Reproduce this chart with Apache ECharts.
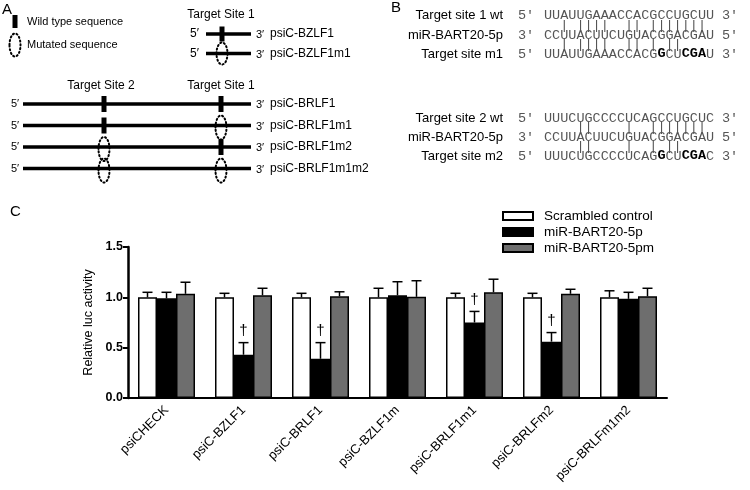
<!DOCTYPE html>
<html><head><meta charset="utf-8">
<script src="https://cdn.jsdelivr.net/npm/echarts@6/dist/echarts.min.js"></script>
<style>html,body{margin:0;padding:0;background:#fff}#c{width:750px;height:490px}</style>
</head><body><div id="c"></div>
<script>
// ---- Panel C data ----
const categories = ['psiCHECK','psiC-BZLF1','psiC-BRLF1','psiC-BZLF1m','psiC-BRLF1m1','psiC-BRLFm2','psiC-BRLFm1m2'];
const seriesNames = ['Scrambled control','miR-BART20-5p','miR-BART20-5pm'];
const scrambled    = [1.00, 1.00, 1.00, 1.00, 1.00, 1.00, 1.00];
const scrambledErr = [1.05, 1.04, 1.04, 1.09, 1.04, 1.04, 1.065];
const mir          = [0.99, 0.43, 0.39, 1.02, 0.75, 0.56, 0.985];
const mirErr       = [1.05, 0.55, 0.55, 1.155, 0.86, 0.65, 1.05];
const mirM         = [1.035, 1.02, 1.01, 1.005, 1.05, 1.035, 1.01];
const mirMErr      = [1.15, 1.09, 1.055, 1.165, 1.18, 1.08, 1.09];
const dagger       = [0, 1, 1, 0, 1, 1, 0];
const yTicks = [0, 0.5, 1.0, 1.5];

// ---- Panel B data ----
const bRows = [
  {label:'Target site 1 wt', left:"5′", seq:[['UUAUUGAAACCACGCCUGCUU',0]], right:"3′"},
  {label:'miR-BART20-5p', left:"3′", seq:[['CCUUACUUCUGUACGGACGAU',0]], right:"5′"},
  {label:'Target site m1', left:"5′", seq:[['UUAUUGAAACCACG',0],['G',1],['CU',0],['CGA',1],['U',0]], right:"3′"},
  {label:'Target site 2 wt', left:"5′", seq:[['UUUCUGCCCCUCAGCCUGCUC',0]], right:"3′"},
  {label:'miR-BART20-5p', left:"3′", seq:[['CCUUACUUCUGUACGGACGAU',0]], right:"5′"},
  {label:'Target site m2', left:"5′", seq:[['UUUCUGCCCCUCAG',0],['G',1],['CU',0],['CGA',1],['C',0]], right:"3′"}
];
const bPairs = [
  '  | ||||  || |||||||',
  '  | ||||  || | ||',
  '    ||    |  |||||||',
  '    ||    |  | ||'
];

// ---- Panel A data ----
const aSingle = ['psiC-BZLF1','psiC-BZLF1m1'];
const aSingleMut = [0, 1];
const aDouble = ['psiC-BRLF1','psiC-BRLF1m1','psiC-BRLF1m2','psiC-BRLF1m1m2'];
const aDoubleMut1 = [0, 1, 0, 1];
const aDoubleMut2 = [0, 0, 1, 1];

const SANS = 'Liberation Sans, Arial, sans-serif';
const MONO = 'Liberation Mono, DejaVu Sans Mono, monospace';
const colors = ['#ffffff','#000000','#6e6e6e'];

const g = [];
function txt(x,y,t,o){ g.push(Object.assign({type:'text',x:x,y:y,style:Object.assign({text:t,fill:'#000',font:'11px '+SANS,textVerticalAlign:'middle'},o||{})})); }
function bar(x1,x2,y){ g.push({type:'line',shape:{x1:x1,y1:y,x2:x2,y2:y},style:{stroke:'#000',lineWidth:3.5}}); }
function site(x,y,h){ g.push({type:'rect',shape:{x:x-2.5,y:y-h/2,width:5,height:h},style:{fill:'#000'}}); }
function mut(x,y,ry){ g.push({type:'ellipse',shape:{cx:x,cy:y,rx:5.5,ry:ry},style:{fill:'rgba(0,0,0,0)',stroke:'#000',lineWidth:2,lineDash:[1.2,2.6],lineCap:'round'}}); }

// Panel A
txt(2,10,'A',{font:'15px '+SANS});
g.push({type:'rect',shape:{x:12.5,y:15,width:5,height:13},style:{fill:'#000'}});
txt(27,22,'Wild type sequence');
mut(15,45,11.5);
txt(27,45,'Mutated sequence');
txt(221,15,'Target Site 1',{font:'12px '+SANS,textAlign:'center'});
aSingle.forEach((n,i)=>{
  const y = 34 + i*19.5;
  txt(190,y,"5′",{font:'12px '+SANS});
  bar(206,251,y);
  if(aSingleMut[i]) mut(222,y,11); else site(222,y,15);
  txt(256,y+1,"3′",{font:'11px '+SANS});
  txt(270,y,n,{font:'12px '+SANS});
});
txt(101,86,'Target Site 2',{font:'12px '+SANS,textAlign:'center'});
txt(221,86,'Target Site 1',{font:'12px '+SANS,textAlign:'center'});
aDouble.forEach((n,i)=>{
  const y = 104 + i*21.5;
  txt(11,y,"5′",{font:'11px '+SANS});
  bar(23,251,y);
  if(aDoubleMut2[i]) mut(104,y+2,12); else site(104,y,16);
  if(aDoubleMut1[i]) mut(221,y+2,12); else site(221,y,16);
  txt(256,y+1,"3′",{font:'11px '+SANS});
  txt(270,y,n,{font:'12px '+SANS});
});

// Panel B
txt(391,8,'B',{font:'15px '+SANS});
const bY = [15,35,54,118,137,156];
const seqX = 544, fs = 13.5, charW = fs*0.6;
bRows.forEach((r,i)=>{
  const y = bY[i];
  txt(503,y,r.label,{font:'13px '+SANS,textAlign:'right'});
  txt(518,y,r.left,{font:fs+'px '+MONO,fill:'#555'});
  let x = seqX;
  r.seq.forEach(([s,b])=>{
    txt(x,y,s,{font:(b?'bold ':'')+fs+'px '+MONO,fill:b?'#000':'#555'});
    x += s.length*charW;
  });
  txt(722,y,r.right,{font:fs+'px '+MONO,fill:'#555'});
});
const pairY = [25,44.5,127.5,146.5];
bPairs.forEach((p,i)=>{
  txt(seqX,pairY[i],p,{font:fs+'px '+MONO,fill:'#555'});
});

// Panel C title
txt(10,212,'C',{font:'15px '+SANS});

const chart = echarts.init(document.getElementById('c'));
const barW = 19;
const errData = [scrambledErr, mirErr, mirMErr];
const valData = [scrambled, mir, mirM];

function errSeries(k){
  return {
    type:'custom', name:seriesNames[k]+' err', z:5,
    data: categories.map((c,i)=>[i, valData[k][i], errData[k][i], k===1?dagger[i]:0]),
    renderItem:function(params, api){
      const i = api.value(0);
      const base = api.coord([i, api.value(1)]);
      const top = api.coord([i, api.value(2)]);
      const x = base[0] + (k-1)*barW;
      const children = [
        {type:'line',shape:{x1:x,y1:base[1],x2:x,y2:top[1]},style:{stroke:'#000',lineWidth:1.5}},
        {type:'line',shape:{x1:x-5,y1:top[1],x2:x+5,y2:top[1]},style:{stroke:'#000',lineWidth:1.5}}
      ];
      if(api.value(3)){
        children.push({type:'text',x:x,y:top[1]-4,style:{text:'†',font:'15px '+SANS,fill:'#000',textAlign:'center',textVerticalAlign:'bottom'}});
      }
      return {type:'group',children:children};
    }
  };
}

const option = {
  animation:false,
  backgroundColor:'#fff',
  graphic: g,
  legend:{
    data: seriesNames,
    orient:'vertical', left:497, top:203, itemWidth:30, itemHeight:8, itemGap:0,
    textStyle:{fontFamily:SANS,fontSize:13.5,color:'#000',padding:[0,0,0,6],lineHeight:16},
    icon:'rect'
  },
  grid:{left:128, right:83, top:247, bottom:92},
  xAxis:{
    type:'category', data:categories,
    axisLine:{lineStyle:{color:'#000',width:2}},
    axisTick:{show:false},
    axisLabel:{rotate:45, interval:0, fontFamily:SANS, fontSize:13, color:'#000', margin:10}
  },
  yAxis:{
    type:'value', min:0, max:1.5, interval:0.5,
    name:'Relative luc activity', nameLocation:'middle', nameGap:28,
    nameTextStyle:{fontFamily:SANS,fontSize:12.5,color:'#000'},
    axisLine:{show:true,lineStyle:{color:'#000',width:2.5}},
    axisTick:{show:true,length:5,lineStyle:{color:'#000',width:2}},
    splitLine:{show:false},
    axisLabel:{fontFamily:SANS,fontSize:12.5,fontWeight:'bold',color:'#000',margin:5,
      formatter:v=>yTicks.includes(v)?v.toFixed(1):''}
  },
  series:[
    {type:'bar',name:seriesNames[0],data:scrambled,barWidth:barW,barGap:'0%',itemStyle:{color:colors[0],borderColor:'#000',borderWidth:1.5}},
    {type:'bar',name:seriesNames[1],data:mir,barWidth:barW,barGap:'0%',itemStyle:{color:colors[1],borderColor:'#000',borderWidth:1.5}},
    {type:'bar',name:seriesNames[2],data:mirM,barWidth:barW,barGap:'0%',itemStyle:{color:colors[2],borderColor:'#000',borderWidth:1.5}},
    errSeries(0), errSeries(1), errSeries(2)
  ]
};
chart.setOption(option);
</script></body></html>
